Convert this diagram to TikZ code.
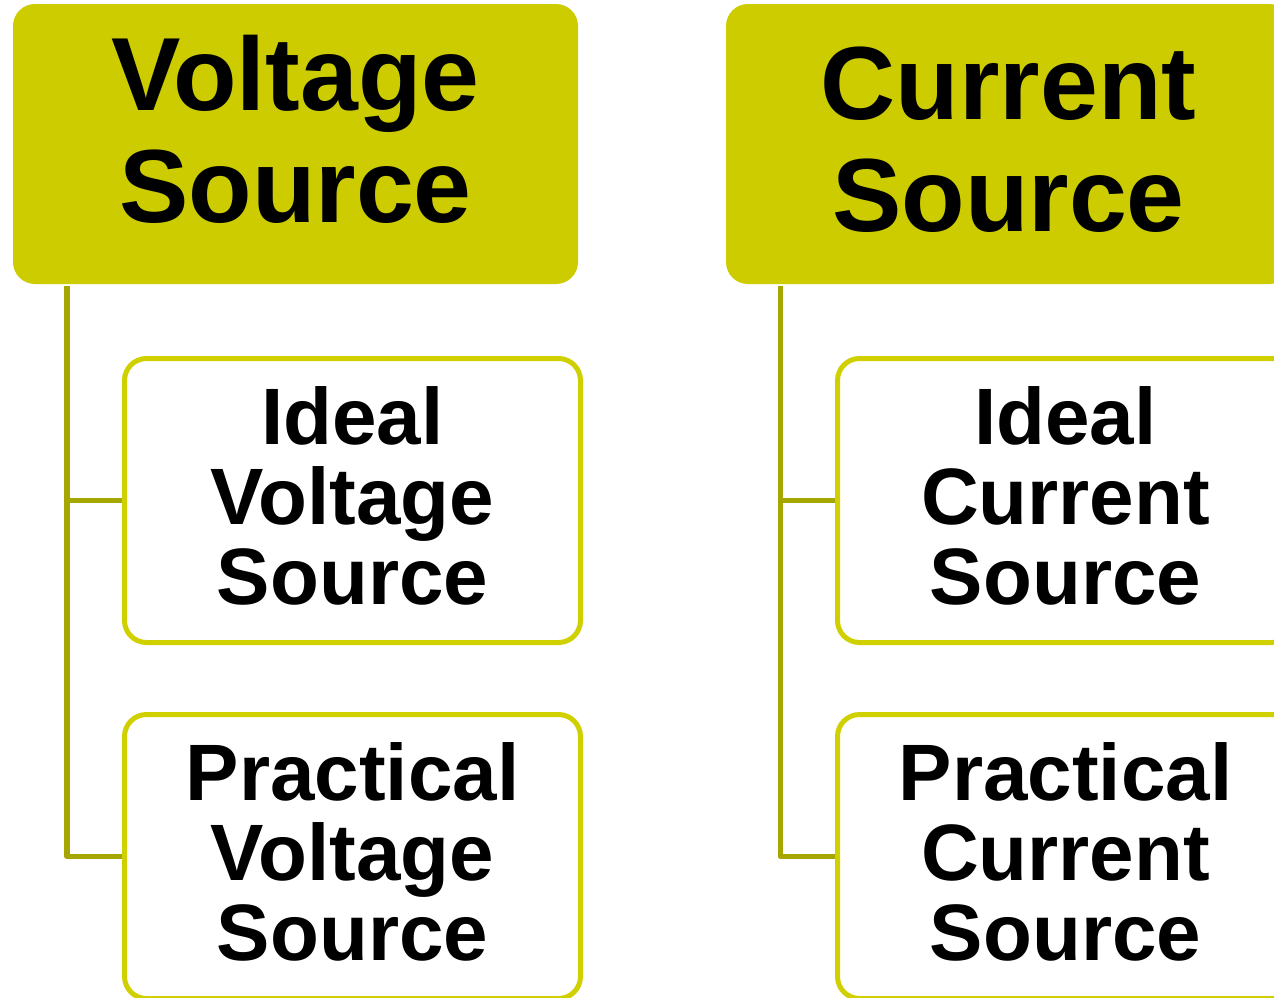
\documentclass[tikz,border=0pt]{standalone}
\usepackage{fontspec}
\setmainfont{Liberation Sans}
\usetikzlibrary{positioning, calc}
\definecolor{olivefill}{RGB}{204,204,0}
\definecolor{oliveline}{RGB}{208,208,0}
\definecolor{olivetrunk}{RGB}{166,166,0}

\begin{document}
\begin{tikzpicture}[
  x=1pt, y=-1pt,
  headbox/.style={fill=olivefill, rounded corners=22pt, minimum width=565pt, minimum height=280pt, inner sep=0pt},
  subbox/.style={draw=oliveline, line width=5pt, fill=white, rounded corners=22pt, minimum width=456pt, minimum height=284pt, inner sep=0pt},
  headtext/.style={font=\bfseries\fontsize{104}{112}\selectfont, align=center, inner sep=0pt},
  subtext/.style={font=\bfseries\fontsize{80}{80}\selectfont, align=center, inner sep=0pt},
  trunk/.style={draw=olivetrunk, line width=5.5pt, line join=round}
  ]
  \useasboundingbox (0,0) rectangle (1274,997);
  \clip (0,0) rectangle (1274,997);
  \coordinate (vtop) at (67,286);
  \coordinate (ctop) at (780.5,286);
  \node[headbox] (vsrc) at (295.5,144) {};
  \node[headbox] (csrc) at (1008.5,144) {};
  \node[subbox] (vsideal) at (352.5,500.5) {};
  \node[subbox] (vsprac) at (352.5,856.5) {};
  \node[subbox] (csideal) at (1065.5,500.5) {};
  \node[subbox] (csprac) at (1065.5,856.5) {};
  \draw[trunk] (vtop) |- (vsideal.west);
  \draw[trunk] (vtop) |- (vsprac.west);
  \draw[trunk] (ctop) |- (csideal.west);
  \draw[trunk] (ctop) |- (csprac.west);
  \node[headtext] (vsrclabel) at ([yshift=15pt]vsrc.center) {Voltage\\Source};
  \node[headtext] (csrclabel) at ([yshift=4pt]csrc.center) {Current\\Source};
  \node[subtext] (vsideallabel) at ([yshift=5pt]vsideal.center) {Ideal\\Voltage\\Source};
  \node[subtext] (vspraclabel) at ([yshift=5pt]vsprac.center) {Practical\\Voltage\\Source};
  \node[subtext] (csideallabel) at ([yshift=5pt]csideal.center) {Ideal\\Current\\Source};
  \node[subtext] (cspraclabel) at ([yshift=5pt]csprac.center) {Practical\\Current\\Source};
\end{tikzpicture}
\end{document}
